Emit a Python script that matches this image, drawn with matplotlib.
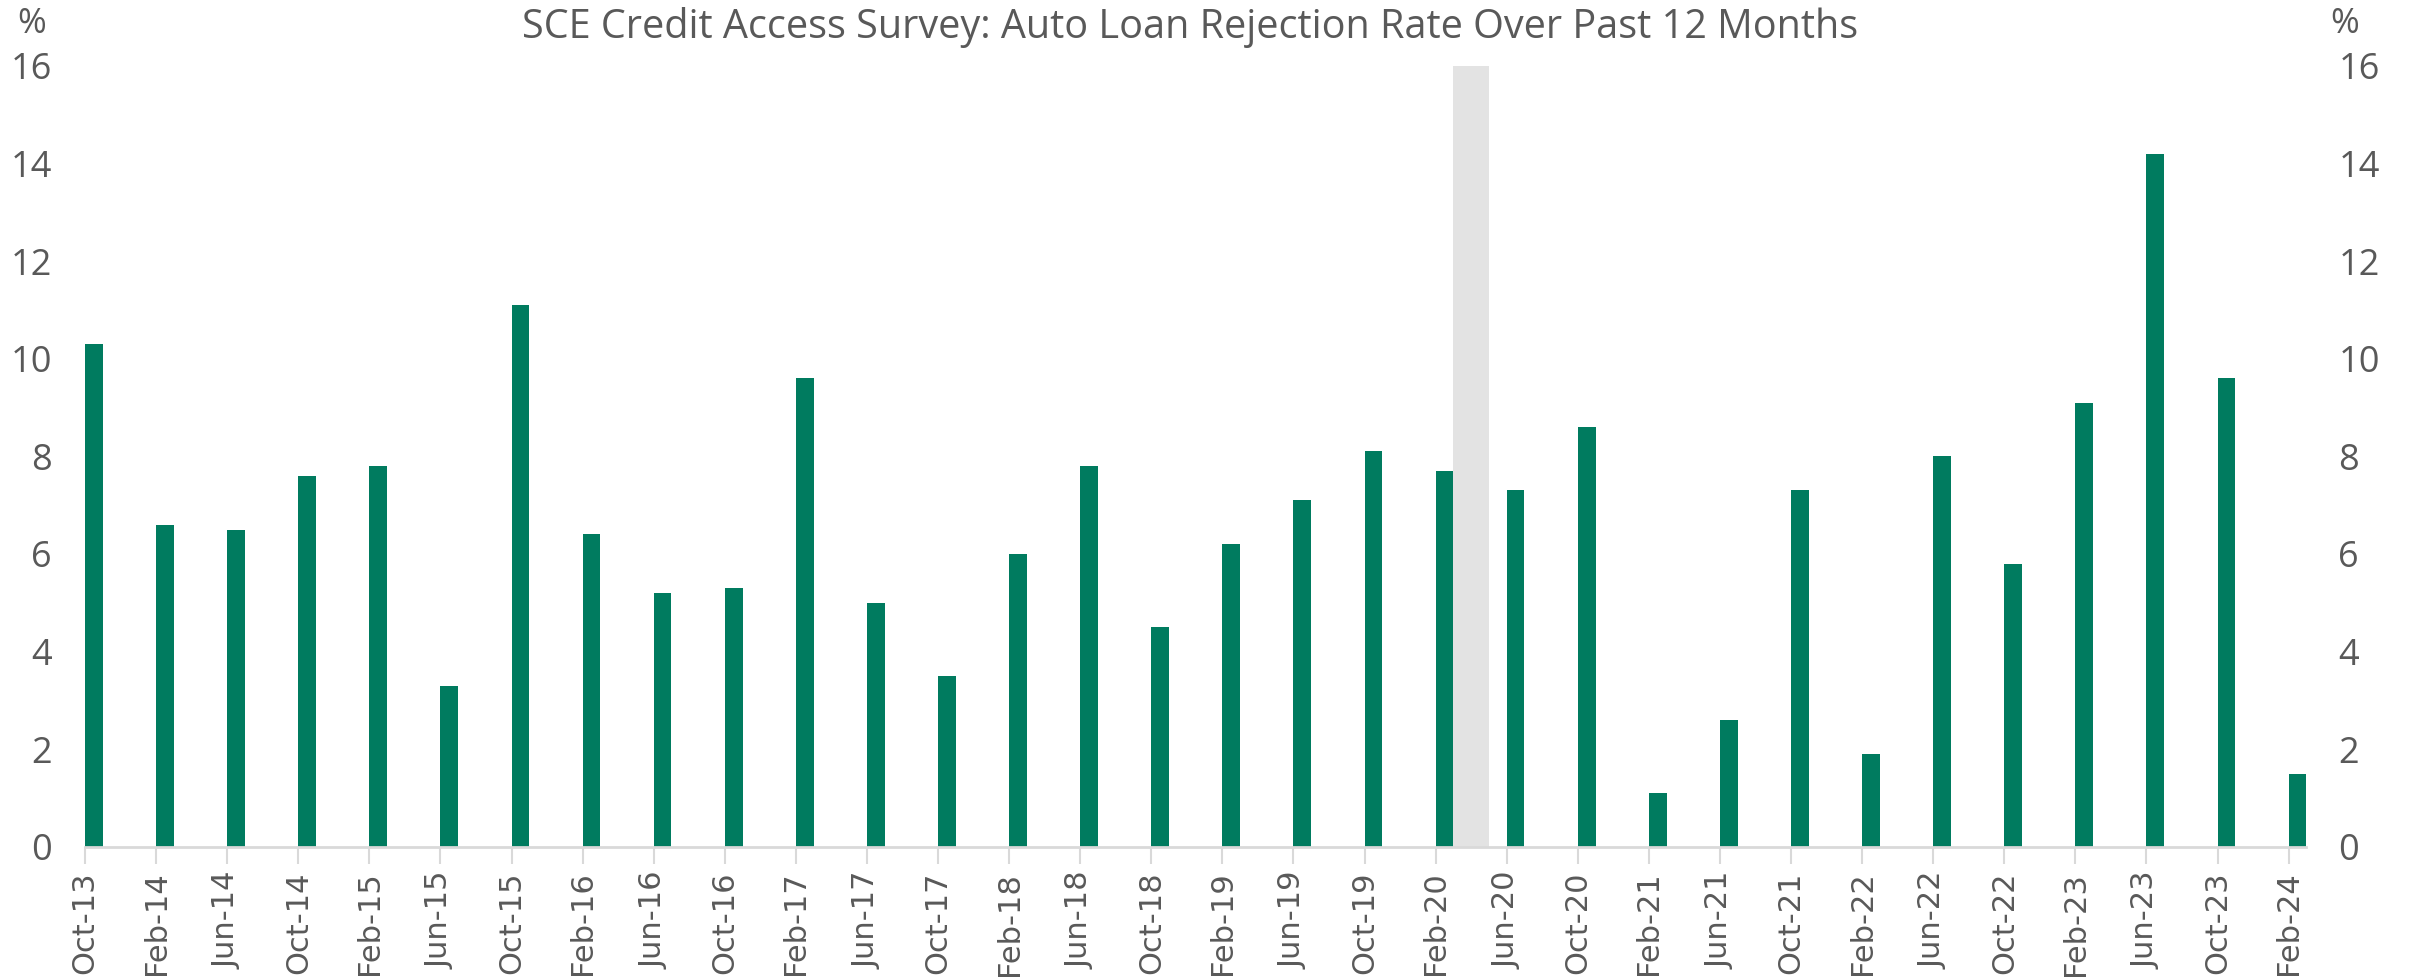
import numpy as np
import matplotlib.pyplot as plt

# survey months (every 4 months), Oct-13 .. Feb-24
labels = ["Oct-13", "Feb-14", "Jun-14", "Oct-14", "Feb-15", "Jun-15", "Oct-15", "Feb-16",
          "Jun-16", "Oct-16", "Feb-17", "Jun-17", "Oct-17", "Feb-18", "Jun-18", "Oct-18",
          "Feb-19", "Jun-19", "Oct-19", "Feb-20", "Jun-20", "Oct-20", "Feb-21", "Jun-21",
          "Oct-21", "Feb-22", "Jun-22", "Oct-22", "Feb-23", "Jun-23", "Oct-23", "Feb-24"]
rejection = [10.3, 6.6, 6.5, 7.6, 7.8, 3.3, 11.1, 6.4,
             5.2, 5.3, 9.6, 5.0, 3.5, 6.0, 7.8, 4.5,
             6.2, 7.1, 8.1, 7.7, 7.3, 8.6, 1.1, 2.6,
             7.3, 1.9, 8.0, 5.8, 9.1, 14.2, 9.6, 1.5]
# recession shading, months since Oct-13 (Mar-20 to end of Apr-20)
recession = (77, 79)

green = "#007b5f"
grey_txt = "#595959"
font = "Open Sans"

# month index since Oct-13
months = np.arange(len(labels)) * 4

fig = plt.figure(figsize=(24.1, 9.8), dpi=100)
ax = fig.add_axes([0.0353, 0.136, 0.9217, 0.7967])

ax.axvspan(recession[0], recession[1], color="#e3e3e3", lw=0, zorder=0)
ax.bar(months, rejection, width=1, align="edge", color=green, zorder=2)

ax.set_xlim(0, months[-1] + 1)
ax.set_ylim(0, 16)
ax.set_yticks(np.arange(0, 17, 2))
ax.set_xticks(months)
ax.set_xticklabels(labels, rotation=90, fontsize=22, color=grey_txt, family="DejaVu Sans")
ax.tick_params(axis="x", length=12, color="#d9d9d9", width=1.5, pad=6)
ax.tick_params(axis="y", length=0, pad=24, labelsize=26, labelcolor=grey_txt)
for lab in ax.get_yticklabels():
    lab.set_family(font)

for s in ["top", "left", "right"]:
    ax.spines[s].set_visible(False)
ax.spines["bottom"].set_color("#d9d9d9")
ax.spines["bottom"].set_linewidth(2)

ax2 = ax.twinx()
ax2.set_ylim(0, 16)
ax2.set_yticks(np.arange(0, 17, 2))
ax2.tick_params(axis="y", length=0, pad=23, labelsize=26, labelcolor=grey_txt)
for lab in ax2.get_yticklabels():
    lab.set_family(font)
for s in ax2.spines.values():
    s.set_visible(False)

fig.text(0.007, 0.976, "%", fontsize=25, color=grey_txt, family=font, va="center")
fig.text(0.967, 0.976, "%", fontsize=25, color=grey_txt, family=font, va="center")
fig.text(0.494, 0.972, "SCE Credit Access Survey: Auto Loan Rejection Rate Over Past 12 Months",
         fontsize=28.5, color=grey_txt, family=font, ha="center", va="center")

fig.savefig("out.png", dpi=100)
